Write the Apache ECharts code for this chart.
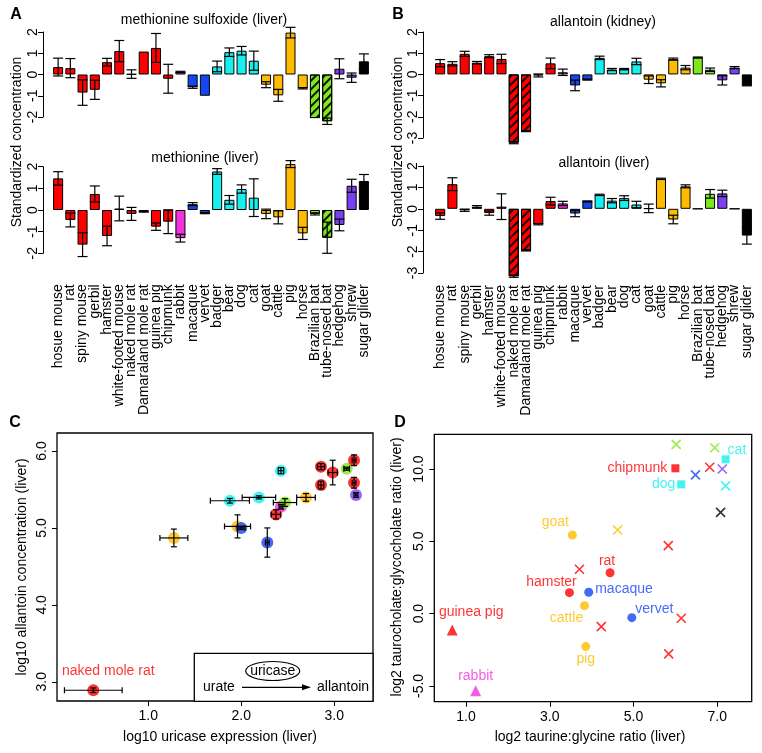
<!DOCTYPE html>
<html>
<head>
<meta charset="utf-8">
<script src="https://cdn.jsdelivr.net/npm/echarts@6/dist/echarts.min.js"></script>
<style>
  html, body { margin: 0; background: #fff; }
  #chart { width: 762px; height: 753px; }
</style>
</head>
<body>
<div id="chart"></div>
<script>
// ---- data ----
const species = ['hosue mouse', 'rat', 'spiny mouse', 'gerbil', 'hamster', 'white-footed mouse',
  'naked mole rat', 'Damaraland mole rat', 'guinea pig', 'chipmunk', 'rabbit', 'macaque', 'vervet',
  'badger', 'bear', 'dog', 'cat', 'goat', 'cattle', 'pig', 'horse', 'Brazilian bat',
  'tube-nosed bat', 'hedgehog', 'shrew', 'sugar glider'];
const speciesGroup = ['rodent', 'rodent', 'rodent', 'rodent', 'rodent', 'rodent', 'rodent', 'rodent',
  'rodent', 'rodent', 'lagomorph', 'primate', 'primate', 'carnivore', 'carnivore', 'carnivore',
  'carnivore', 'ungulate', 'ungulate', 'ungulate', 'ungulate', 'bat', 'bat', 'insectivore',
  'insectivore', 'marsupial'];

// methionine sulfoxide (liver)
const msoMean = [0.35, 0.3, -0.85, -0.72, 0.58, 1.1, 0.02, 1.08, 1.25, -0.2, 0.12, -0.6, -1.0,
  0.38, 1.05, 1.12, 0.65, -0.48, -0.98, 1.97, -0.65, -2.05, -2.2, 0.27, -0.15, 0.62];
const msoErr = [0.42, 0.45, 0.6, 0.45, 0.18, 0.5, 0.2, 0, 0.68, 0.68, 0.03, 0.05, 0, 0.25, 0.2,
  0.2, 0.45, 0.14, 0.28, 0.25, 0.03, 0, 0.15, 0.47, 0.22, 0.35];
const msoHatched = ['Brazilian bat', 'tube-nosed bat'];

// methionine (liver)
const metMean = [1.46, -0.46, -1.6, 0.74, -1.2, 0.07, -0.18, -0.08, -0.77, -0.54, -1.3, 0.27, -0.15,
  1.78, 0.47, 0.97, 0.57, -0.18, -0.34, 2.12, -1.08, -0.18, -1.28, -0.69, 1.12, 1.34];
const metErr = [0.31, 0.32, 0.55, 0.37, 0.45, 0.57, 0.3, 0.02, 0.17, 0.55, 0.18, 0.07, 0.02, 0.13,
  0.2, 0.19, 0.87, 0.22, 0.3, 0.16, 0.28, 0.05, 0.72, 0.27, 0.3, 0.3];
const metHatched = ['tube-nosed bat'];

// allantoin (kidney)
const akMean = [0.53, 0.5, 0.97, 0.55, 0.86, 0.73, -3.22, -2.68, -0.05, 0.52, 0.1, -0.52, -0.25,
  0.78, 0.23, 0.25, 0.61, -0.25, -0.42, 0.72, 0.32, 0.8, 0.22, -0.28, 0.32, -0.52];
const akErr = [0.17, 0.1, 0.12, 0.06, 0.07, 0.22, 0.05, 0.02, 0.07, 0.25, 0.15, 0.25, 0.02, 0.08,
  0.05, 0.03, 0.15, 0.18, 0.17, 0.05, 0.1, 0.02, 0.08, 0.22, 0.05, 0.02];
const akHatched = ['naked mole rat', 'Damaraland mole rat'];

// allantoin (liver)
const alMean = [-0.34, 1.15, -0.07, 0.1, -0.2, 0.1, -3.15, -1.95, -0.72, 0.36, 0.25, -0.22, 0.35,
  0.65, 0.38, 0.5, 0.2, 0.02, 1.4, -0.5, 1.05, 0, 0.7, 0.72, 0, -1.25];
const alErr = [0.15, 0.3, 0.05, 0.05, 0.1, 0.6, 0.05, 0.02, 0.03, 0.18, 0.1, 0.15, 0.02, 0.03, 0.1,
  0.11, 0.15, 0.2, 0.03, 0.2, 0.07, 0, 0.2, 0.15, 0, 0.4];
const alHatched = ['naked mole rat', 'Damaraland mole rat'];

// panel C: uricase expression vs allantoin
const cX = [1.276, 1.96, 2.0, 2.28, 1.878, 2.19, 2.427, 2.373, 2.427, 2.47, 2.696, 2.857, 2.857,
  2.983, 3.133, 3.212, 3.212, 3.233, 0.41];
const cY = [4.87, 5.02, 5.0, 4.81, 5.353, 5.397, 5.744, 5.176, 5.275, 5.33, 5.397, 5.796, 5.557,
  5.72, 5.77, 5.88, 5.587, 5.427, 2.89];
const cXErr = [0.15, 0.14, 0.04, 0.02, 0.21, 0.18, 0.03, 0.05, 0.02, 0.125, 0.1, 0.04, 0.03, 0.05,
  0.03, 0.02, 0.02, 0.02, 0.31];
const cYErr = [0.115, 0.15, 0.02, 0.19, 0.03, 0.02, 0.04, 0.06, 0.03, 0.05, 0.05, 0.04, 0.05, 0.16,
  0.02, 0.07, 0.07, 0.03, 0.03];
const cGroup = ['ungulate', 'ungulate', 'primate', 'primate', 'carnivore', 'carnivore', 'carnivore',
  'rodent', 'lagomorph', 'bat', 'ungulate', 'rodent', 'rodent', 'rodent', 'bat', 'rodent', 'rodent',
  'insectivore', 'rodent'];
const cLabel = ['', '', '', '', '', '', '', '', '', '', '', '', '', '', '', '', '', '', 'naked mole rat'];

// panel D: taurine:glycine vs taurocholate:glycocholate
const dX = [6.02, 6.94, 7.2, 6.0, 6.82, 7.12, 6.48, 6.14, 7.2, 7.08, 3.54, 4.62, 5.83, 3.71, 4.44,
  3.47, 3.93, 3.83, 4.96, 6.14, 4.23, 0.67, 3.86, 5.84, 1.23];
const dY = [11.7, 11.47, 10.67, 10.05, 10.12, 10.0, 9.59, 8.94, 8.83, 7.0, 5.44, 5.78, 4.7, 3.07,
  2.83, 1.45, 1.48, 0.55, -0.28, -0.32, -0.9, -1.13, -2.28, -2.78, -5.34];
const dGroup = ['bat', 'bat', 'carnivore', 'rodent', 'rodent', 'insectivore', 'primate', 'carnivore',
  'carnivore', 'marsupial', 'ungulate', 'ungulate', 'rodent', 'rodent', 'rodent', 'rodent', 'primate',
  'ungulate', 'primate', 'rodent', 'rodent', 'rodent', 'ungulate', 'rodent', 'lagomorph'];
const dShape = ['x', 'x', 'square', 'square', 'x', 'x', 'x', 'square', 'x', 'x', 'circle', 'x', 'x',
  'x', 'circle', 'circle', 'circle', 'circle', 'circle', 'x', 'x', 'triangle', 'circle', 'x', 'triangle'];
const dLabel = ['', '', 'cat', 'chipmunk', '', '', '', 'dog', '', '', 'goat', '', '', '', 'rat',
  'hamster', 'macaque', 'cattle', 'vervet', '', '', 'guinea pig', 'pig', '', 'rabbit'];

// ---- styles ----
const FONT = 'Liberation Sans, Arial, Helvetica, sans-serif';
const groupColor = {
  rodent: '#ff0000', lagomorph: '#f233dd', primate: '#1546f0', carnivore: '#18f0f0',
  ungulate: '#ffbb00', bat: '#7ee81c', insectivore: '#7b3ff2', marsupial: '#000000'
};
const hatch = {
  symbol: 'rect', symbolSize: 1, dashArrayX: [1, 0], dashArrayY: [1.3, 3.2],
  rotation: -Math.PI / 4, color: 'rgba(0,0,0,0.9)'
};
const dLabelPlace = {
  cat: { position: 'right', offset: [-7, -9] },
  chipmunk: { position: 'left', distance: 4 },
  dog: { position: 'left', distance: 2 },
  goat: { position: 'top', offset: [-17, 4] },
  rat: { position: 'top', offset: [-3, 5] },
  hamster: { position: 'top', offset: [-18, 6] },
  macaque: { position: 'right', offset: [-3, -3] },
  cattle: { position: 'bottom', offset: [-18, -4] },
  vervet: { position: 'right', offset: [-6, -9] },
  'guinea pig': { position: 'top', offset: [19, 0] },
  pig: { position: 'bottom', offset: [0, -4] },
  rabbit: { position: 'top', offset: [0, 3] }
};
const shapeSymbol = {
  circle: 'circle', square: 'rect', triangle: 'triangle',
  x: 'path://M0,0L10,10M10,0L0,10'
};
const shapeSize = { circle: 9, square: 8, triangle: 11, x: 9 };

const barPanels = [
  { mean: msoMean, err: msoErr, hatched: msoHatched, min: -2, grid: { left: 52, top: 32, width: 318, height: 85 }, yOffset: 9, labels: false },
  { mean: metMean, err: metErr, hatched: metHatched, min: -2, grid: { left: 52, top: 166.7, width: 318, height: 86.6 }, yOffset: 9, labels: true, margin: 31 },
  { mean: akMean, err: akErr, hatched: akHatched, min: -3, grid: { left: 434, top: 32, width: 319, height: 106 }, yOffset: 11, labels: false },
  { mean: alMean, err: alErr, hatched: alHatched, min: -3, grid: { left: 434, top: 166, width: 319, height: 107 }, yOffset: 11, labels: true, margin: 12 }
];

const black = { color: '#000', width: 1 };
const grids = [], xAxes = [], yAxes = [], series = [];

barPanels.forEach((p, i) => {
  grids.push(Object.assign({ outerBoundsMode: 'none' }, p.grid));
  xAxes.push({
    type: 'category', gridIndex: i, data: species,
    axisLine: { show: false, onZero: false }, axisTick: { show: false },
    axisLabel: { show: p.labels, interval: 0, rotate: 90, fontSize: 14, color: '#000', fontFamily: FONT, margin: p.margin || 8 },
    splitLine: { show: false }
  });
  yAxes.push({
    type: 'value', gridIndex: i, min: p.min, max: 2, interval: 1, offset: p.yOffset,
    axisLine: { show: true, onZero: false, lineStyle: black },
    axisTick: { show: true, length: 5, lineStyle: black },
    axisLabel: { rotate: 90, fontSize: 14, color: '#000', fontFamily: FONT, margin: 3 },
    splitLine: { show: false }
  });
  series.push({
    type: 'bar', xAxisIndex: i, yAxisIndex: i, barWidth: '82%', clip: false,
    data: p.mean.map((v, k) => {
      const style = { color: groupColor[speciesGroup[k]], borderColor: '#000', borderWidth: 1 };
      if (p.hatched.includes(species[k])) style.decal = hatch;
      return { value: v, itemStyle: style };
    })
  });
  series.push({
    type: 'custom', xAxisIndex: i, yAxisIndex: i, z: 5, silent: true, clip: false,
    data: p.mean.map((m, k) => [k, m - p.err[k], m + p.err[k]]).filter((d, k) => p.err[k] > 0.001),
    renderItem(params, api) {
      const lo = api.coord([api.value(0), api.value(1)]);
      const hi = api.coord([api.value(0), api.value(2)]);
      const hw = 5, st = { stroke: '#000', lineWidth: 1.2 };
      return { type: 'group', children: [
        { type: 'line', shape: { x1: lo[0], y1: lo[1], x2: hi[0], y2: hi[1] }, style: st },
        { type: 'line', shape: { x1: lo[0] - hw, y1: lo[1], x2: lo[0] + hw, y2: lo[1] }, style: st },
        { type: 'line', shape: { x1: hi[0] - hw, y1: hi[1], x2: hi[0] + hw, y2: hi[1] }, style: st }
      ] };
    }
  });
});

function scatterAxes(gi, xr, yr, xt, yt) {
  grids.push(Object.assign({ show: true, borderColor: '#000', borderWidth: 1.3, outerBoundsMode: 'none' }, gi));
  const idx = grids.length - 1;
  xAxes.push({
    type: 'value', gridIndex: idx, min: xr[0], max: xr[1],
    axisLine: { show: false, onZero: false }, splitLine: { show: false },
    axisTick: { show: true, length: 5, customValues: xt, lineStyle: black },
    axisLabel: { customValues: xt, formatter: v => v.toFixed(1), fontSize: 14, color: '#000', fontFamily: FONT, margin: 8 }
  });
  yAxes.push({
    type: 'value', gridIndex: idx, min: yr[0], max: yr[1],
    axisLine: { show: false, onZero: false }, splitLine: { show: false },
    axisTick: { show: true, length: 5, customValues: yt, lineStyle: black },
    axisLabel: { customValues: yt, rotate: 90, formatter: v => v.toFixed(1), fontSize: 14, color: '#000', fontFamily: FONT, margin: 8 }
  });
  return idx;
}

// panel C
const ci = scatterAxes({ left: 57, top: 433, width: 316, height: 268 }, [0.02, 3.416], [2.75, 6.234], [1, 2, 3], [3, 4, 5, 6]);
series.push({
  type: 'scatter', xAxisIndex: ci, yAxisIndex: ci, symbolSize: 12, z: 3,
  data: cX.map((x, k) => ({
    value: [x, cY[k]],
    itemStyle: { color: groupColor[cGroup[k]] },
    label: cLabel[k] ? { show: true, formatter: cLabel[k], position: 'top', offset: [15, -1], color: groupColor[cGroup[k]], fontSize: 14, fontFamily: FONT } : { show: false }
  }))
});
series.push({
  type: 'custom', xAxisIndex: ci, yAxisIndex: ci, z: 5, silent: true,
  data: cX.map((x, k) => [x, cY[k], cXErr[k], cYErr[k]]),
  renderItem(params, api) {
    const x = api.value(0), y = api.value(1), ex = api.value(2), ey = api.value(3);
    const l = api.coord([x - ex, y]), r = api.coord([x + ex, y]);
    const b = api.coord([x, y - ey]), t = api.coord([x, y + ey]);
    const c = 3, st = { stroke: '#000', lineWidth: 1.2 };
    return { type: 'group', children: [
      { type: 'line', shape: { x1: l[0], y1: l[1], x2: r[0], y2: r[1] }, style: st },
      { type: 'line', shape: { x1: l[0], y1: l[1] - c, x2: l[0], y2: l[1] + c }, style: st },
      { type: 'line', shape: { x1: r[0], y1: r[1] - c, x2: r[0], y2: r[1] + c }, style: st },
      { type: 'line', shape: { x1: b[0], y1: b[1], x2: t[0], y2: t[1] }, style: st },
      { type: 'line', shape: { x1: b[0] - c, y1: b[1], x2: b[0] + c, y2: b[1] }, style: st },
      { type: 'line', shape: { x1: t[0] - c, y1: t[1], x2: t[0] + c, y2: t[1] }, style: st }
    ] };
  }
});

// panel D
const di = scatterAxes({ left: 434.3, top: 434.3, width: 317.4, height: 267.4 }, [0.242, 7.823], [-6.09, 12.4], [1, 3, 5, 7], [-5, 0, 5, 10]);
series.push({
  type: 'scatter', xAxisIndex: di, yAxisIndex: di,
  data: dX.map((x, k) => {
    const col = groupColor[dGroup[k]], sh = dShape[k];
    const item = {
      value: [x, dY[k]], symbol: shapeSymbol[sh], symbolSize: shapeSize[sh],
      itemStyle: sh === 'x' ? { color: 'none', borderColor: col, borderWidth: 1.6 } : { color: col }
    };
    if (dLabel[k]) {
      item.label = Object.assign({ show: true, formatter: dLabel[k], color: col, fontSize: 14, fontFamily: FONT }, dLabelPlace[dLabel[k]]);
    }
    return item;
  })
});

const txt = (x, y, text, opts = {}) => ({
  type: 'text', x, y, rotation: opts.rot || 0, z: 10,
  style: { text, fontSize: opts.size || 14, fontFamily: FONT, fontWeight: opts.bold ? 'bold' : 'normal',
    fill: opts.color || '#000', align: opts.align || 'center', verticalAlign: 'middle' }
});

const graphics = [
  txt(16, 15, 'A', { bold: true, size: 16 }),
  txt(398, 15, 'B', { bold: true, size: 16 }),
  txt(15, 423, 'C', { bold: true, size: 16 }),
  txt(400, 423, 'D', { bold: true, size: 16 }),
  txt(204, 20, 'methionine sulfoxide (liver)'),
  txt(205, 158, 'methionine (liver)'),
  txt(603, 22, 'allantoin (kidney)'),
  txt(604, 163, 'allantoin (liver)'),
  txt(17, 142, 'Standardized concentration', { rot: Math.PI / 2 }),
  txt(398, 142, 'Standardized concentration', { rot: Math.PI / 2 }),
  txt(220, 737, 'log10 uricase expression (liver)'),
  txt(22, 567, 'log10 allantoin concentration (liver)', { rot: Math.PI / 2 }),
  txt(590, 737, 'log2 taurine:glycine ratio (liver)'),
  txt(397, 567, 'log2 taurocholate:glycocholate ratio (liver)', { rot: Math.PI / 2 }),
  // reaction inset in panel C
  { type: 'rect', z: 9, shape: { x: 194.3, y: 653.3, width: 178.7, height: 48 }, style: { fill: '#fff', stroke: '#000', lineWidth: 1.3 } },
  txt(203, 687, 'urate', { align: 'left' }),
  txt(317, 687, 'allantoin', { align: 'left' }),
  { type: 'line', z: 10, shape: { x1: 242, y1: 687.3, x2: 304, y2: 687.3 }, style: { stroke: '#000', lineWidth: 1.2 } },
  { type: 'polygon', z: 10, shape: { points: [[311, 687.3], [302, 684.3], [302, 690.3]] }, style: { fill: '#000' } },
  { type: 'ellipse', z: 10, shape: { cx: 272.7, cy: 671, rx: 27, ry: 9.5 }, style: { fill: 'none', stroke: '#000', lineWidth: 1.2 } },
  txt(272.7, 671, 'uricase')
];

const chart = echarts.init(document.getElementById('chart'));
chart.setOption({
  animation: false,
  backgroundColor: '#fff',
  textStyle: { fontFamily: FONT },
  grid: grids,
  xAxis: xAxes,
  yAxis: yAxes,
  series: series,
  graphic: graphics
});
</script>
</body>
</html>
